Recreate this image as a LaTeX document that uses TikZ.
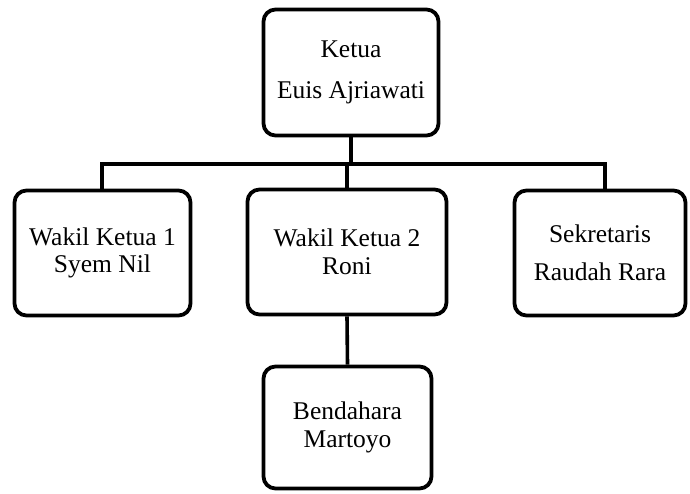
\documentclass[tikz,border=0pt]{standalone}
\usepackage{fontspec}
\setmainfont{Liberation Serif}
\begin{document}
\begin{tikzpicture}[x=1pt,y=-1pt,
  orgbox/.style={draw=black, line width=3.8pt, rounded corners=12pt,
    align=center, inner sep=0pt, font=\fontsize{25.5}{27.5}\selectfont},
  link/.style={draw=black, line width=3.6pt, line join=miter}]
  \useasboundingbox (0,0) rectangle (690,493);

  % boxes
  \node[orgbox, minimum width=175pt, minimum height=126pt] (ketua) at (351,72.5)
    {\raisebox{-4pt}{Ketua}\\[13pt]\raisebox{-4pt}{Euis Ajriawati}};
  \node[orgbox, minimum width=176pt, minimum height=125pt] (wk1) at (102.5,253)
    {Wakil Ketua 1\\Syem Nil};
  \node[orgbox, minimum width=199pt, minimum height=125pt] (wk2) at (347,252)
    {Wakil Ketua 2\\Roni};
  \node[orgbox, minimum width=171pt, minimum height=125pt] (sek) at (600,253)
    {Sekretaris\\[11pt]Raudah Rara};
  \node[orgbox, minimum width=168pt, minimum height=122pt] (bend) at (347.5,427.5)
    {Bendahara\\Martoyo};

  % junction points on the horizontal bar
  \coordinate (jTop) at (351,164);
  \coordinate (jL) at (102,164);
  \coordinate (jM) at (347,164);
  \coordinate (jR) at (605,164);

  % connectors
  \draw[link] (ketua.south) -- (jTop);
  \draw[link] (jL |- wk1.north) -- (jL) -- (jR) -- (jR |- sek.north);
  \draw[link] (jM) -- (jM |- wk2.north);
  \draw[link] (wk2.south) -- (bend.north);
\end{tikzpicture}
\end{document}
